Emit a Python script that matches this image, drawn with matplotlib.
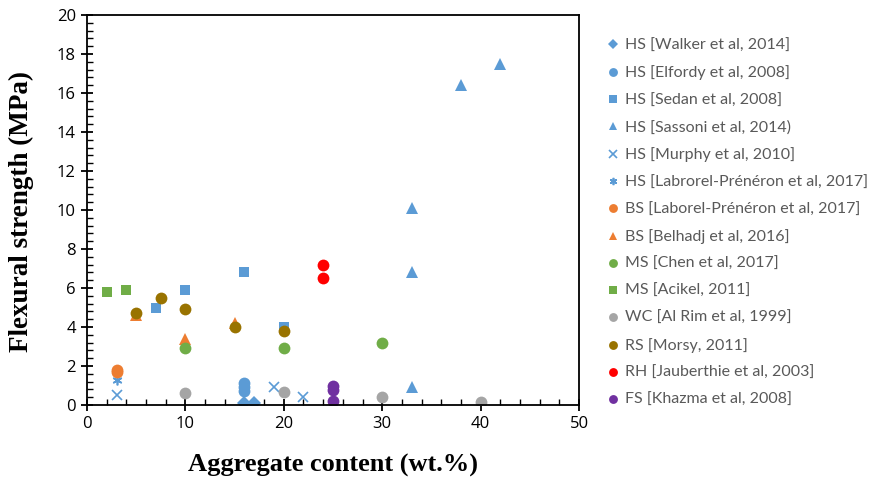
import matplotlib
matplotlib.use("Agg")
import matplotlib.pyplot as plt
from matplotlib.ticker import MultipleLocator

# ---- data ----
walker_x = [16, 17]
walker_y = [0.1, 0.1]
elfordy_x = [16, 16, 16]
elfordy_y = [1.12, 0.9, 0.7]
sedan_x = [7, 10, 16, 20]
sedan_y = [5.0, 5.9, 6.8, 4.0]
sassoni_x = [33, 33, 33, 38, 42]
sassoni_y = [0.9, 6.8, 10.1, 16.4, 17.5]
murphy_x = [3, 19, 22]
murphy_y = [0.5, 0.9, 0.4]
labrorel_x = [3]
labrorel_y = [1.3]
laborel_bs_x = [3, 3]
laborel_bs_y = [1.7, 1.8]
belhadj_x = [5, 10, 15]
belhadj_y = [4.6, 3.4, 4.2]
chen_x = [10, 20, 30]
chen_y = [2.9, 2.9, 3.2]
acikel_x = [2, 4]
acikel_y = [5.8, 5.9]
alrim_x = [10, 20, 30, 40]
alrim_y = [0.6, 0.65, 0.4, 0.15]
morsy_x = [5, 7.5, 10, 15, 20]
morsy_y = [4.7, 5.5, 4.9, 4.0, 3.8]
jaub_x = [24, 24]
jaub_y = [7.2, 6.5]
khazma_x = [25, 25, 25]
khazma_y = [0.95, 0.78, 0.2]

labels = [
    "HS [Walker et al, 2014]",
    "HS [Elfordy et al, 2008]",
    "HS [Sedan et al, 2008]",
    "HS [Sassoni et al, 2014)",
    "HS [Murphy et al, 2010]",
    "HS [Labrorel-Prénéron et al, 2017]",
    "BS [Laborel-Prénéron et al, 2017]",
    "BS [Belhadj et al, 2016]",
    "MS [Chen et al, 2017]",
    "MS [Acikel, 2011]",
    "WC [Al Rim et al, 1999]",
    "RS [Morsy, 2011]",
    "RH [Jauberthie et al, 2003]",
    "FS [Khazma et al, 2008]",
]

BLUE = "#5B9BD5"
ORANGE = "#ED7D31"
GREEN = "#70AD47"
GREY = "#A5A5A5"
BROWN = "#997300"
RED = "#FF0000"
PURPLE = "#7030A0"

series = [
    (walker_x, walker_y, "D", BLUE, 7),
    (elfordy_x, elfordy_y, "o", BLUE, 8.5),
    (sedan_x, sedan_y, "s", BLUE, 7.5),
    (sassoni_x, sassoni_y, "^", BLUE, 8),
    (murphy_x, murphy_y, "x", BLUE, 7),
    (labrorel_x, labrorel_y, "asterisk", BLUE, 7),
    (laborel_bs_x, laborel_bs_y, "o", ORANGE, 8.5),
    (belhadj_x, belhadj_y, "^", ORANGE, 8),
    (chen_x, chen_y, "o", GREEN, 8.5),
    (acikel_x, acikel_y, "s", GREEN, 7.5),
    (alrim_x, alrim_y, "o", GREY, 8.5),
    (morsy_x, morsy_y, "o", BROWN, 8.5),
    (jaub_x, jaub_y, "o", RED, 8.5),
    (khazma_x, khazma_y, "o", PURPLE, 8.5),
]

fig = plt.figure(figsize=(8.71, 4.79), dpi=100)
ax = fig.add_axes([87/871, 1-405/479, (579-87)/871, (405-15)/479])

handles = []
for (xs, ys, m, c, ms), lab in zip(series, labels):
    if m == "asterisk":
        h, = ax.plot(xs, ys, linestyle="none", marker=(6, 2, 0), markersize=ms,
                     markeredgecolor=c, markerfacecolor=c, markeredgewidth=1.2, label=lab)
    elif m == "x":
        h, = ax.plot(xs, ys, linestyle="none", marker="x", markersize=ms,
                     markeredgecolor=c, markeredgewidth=1.2, label=lab)
    else:
        h, = ax.plot(xs, ys, linestyle="none", marker=m, markersize=ms,
                     markerfacecolor=c, markeredgecolor=c, markeredgewidth=0, label=lab)
    handles.append(h)

ax.set_xlim(0, 50)
ax.set_ylim(0, 20)
ax.xaxis.set_major_locator(MultipleLocator(10))
ax.xaxis.set_minor_locator(MultipleLocator(2))
ax.yaxis.set_major_locator(MultipleLocator(2))
ax.yaxis.set_minor_locator(MultipleLocator(0.4))
ax.tick_params(which="major", direction="inout", length=8, width=1.3, top=False, right=False,
               labelsize=12, labelcolor="#000000", pad=4)
ax.tick_params(which="minor", direction="in", length=4, width=1.0, top=False, right=False)
for s in ax.spines.values():
    s.set_linewidth(1.3)
    s.set_color("black")

for lbl in ax.get_xticklabels() + ax.get_yticklabels():
    lbl.set_fontfamily("Open Sans")

ax.set_xlabel("Aggregate content (wt.%)", fontfamily="Liberation Serif", fontweight="bold",
              fontsize=19, labelpad=16)
ax.set_ylabel("Flexural strength (MPa)", fontfamily="Liberation Serif", fontweight="bold",
              fontsize=19.5)
ax.yaxis.set_label_coords(-0.108, 0.495)

leg = fig.legend(handles=handles, loc="upper left", bbox_to_anchor=(589/871, 1-24/479),
                 frameon=False, handletextpad=0.15, handlelength=1.2, labelspacing=0.805,
                 borderpad=0.4, prop={"family": "Lato", "size": 11.5}, markerscale=0.75)
for t in leg.get_texts():
    t.set_color("#595959")

fig.savefig("out.png", dpi=100)
